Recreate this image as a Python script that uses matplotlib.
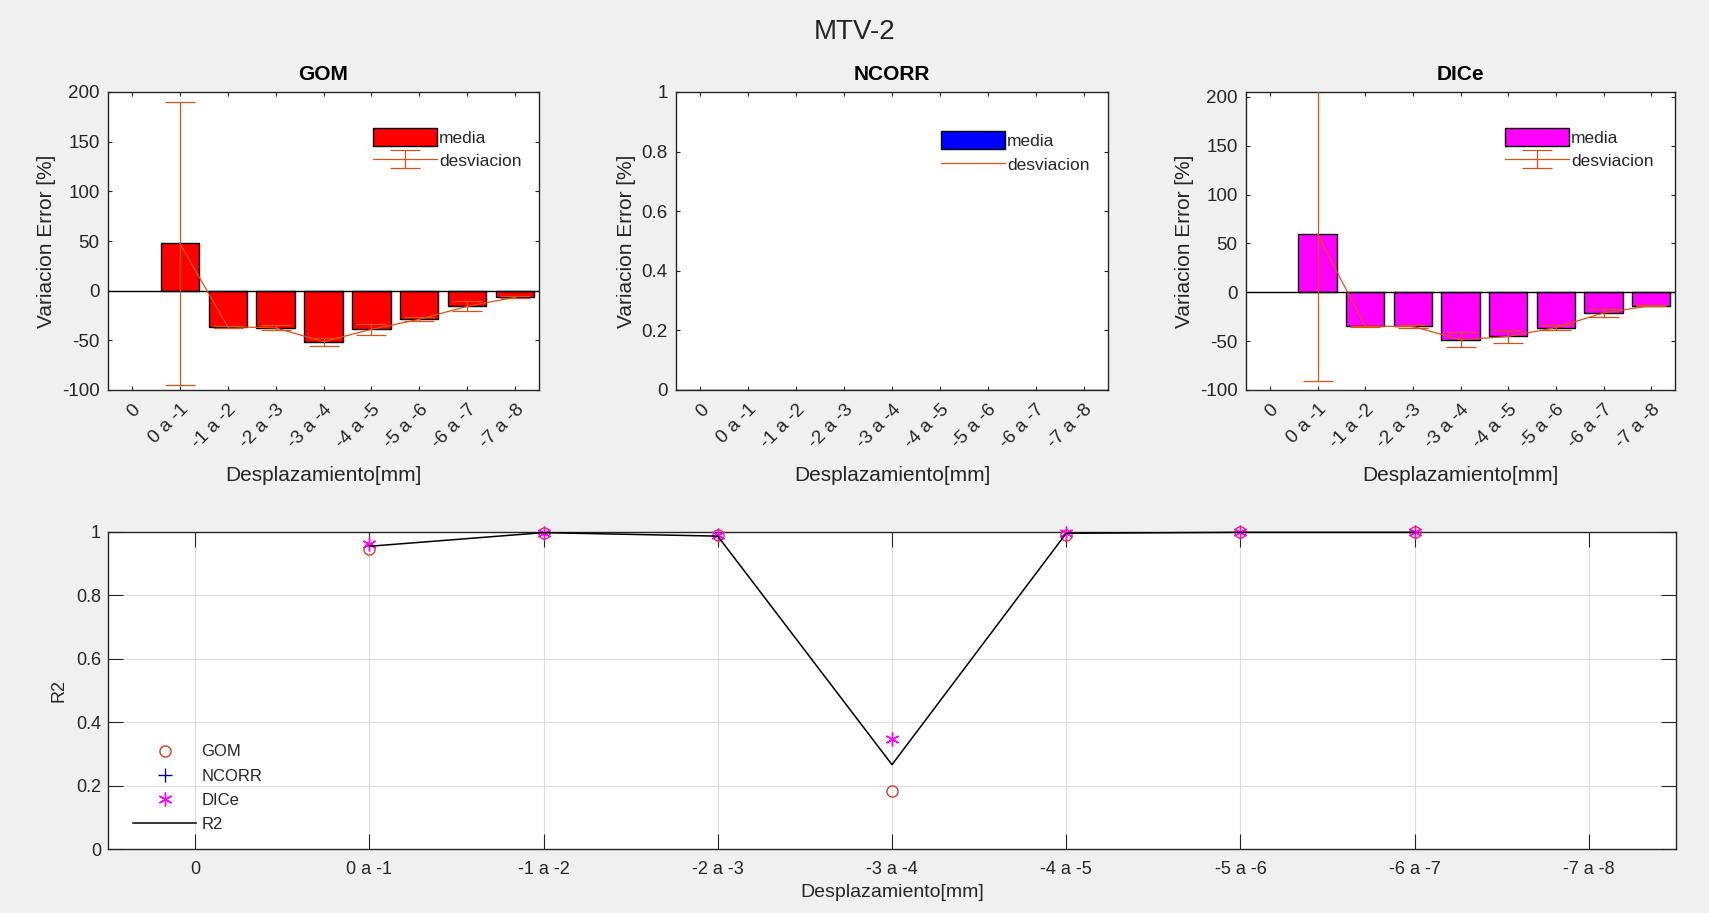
import numpy as np
import matplotlib
matplotlib.use("Agg")
import matplotlib.pyplot as plt

plt.rcParams["font.family"] = ["Liberation Sans", "DejaVu Sans"]

# ---- data -------------------------------------------------------------
categories = ['0', '0 a -1', '-1 a -2', '-2 a -3', '-3 a -4',
              '-4 a -5', '-5 a -6', '-6 a -7', '-7 a -8']
nan = np.nan

gom_media = [nan, 47.6, -36.2, -37.5, -51.3, -38.9, -28.8, -15.8, -6.7]
gom_desv = [nan, 142.5, 1.0, 2.5, 4.0, 5.5, 2.0, 5.0, 1.0]

ncorr_media = [nan, nan, nan, nan, nan, nan, nan, nan, nan]
ncorr_desv = [nan, nan, nan, nan, nan, nan, nan, nan, nan]

dice_media = [nan, 59.5, -34.7, -34.9, -48.6, -45.2, -36.1, -21.1, -13.6]
dice_desv = [nan, 150.3, 0.5, 1.5, 7.7, 6.5, 3.0, 4.4, 0.5]

r2_gom = [nan, 0.946, 0.998, 0.991, 0.184, 0.990, 0.999, 0.999, nan]
r2_ncorr = [nan, nan, nan, nan, nan, nan, nan, nan, nan]
r2_dice = [nan, 0.963, 0.998, 0.990, 0.347, 0.998, 1.000, 1.000, nan]
r2_total = [nan, 0.955, 0.998, 0.987, 0.266, 0.996, 0.999, 0.999, nan]

# ---- styling -----------------------------------------------------------
W, H = 1709, 913
TXT = (0.15, 0.15, 0.15)
ERR_COLOR = '#D95319'

fig = plt.figure(figsize=(W / 100, H / 100), dpi=100, facecolor='#f0f0f0')
fig.suptitle('MTV-2', fontsize=20, color=TXT, y=1 - 32 / H, va='center')


def box(l, t, r, b):
    return [l / W, 1 - b / H, (r - l) / W, (b - t) / H]


x = np.arange(1, len(categories) + 1)

panels = [
    ('GOM', gom_media, gom_desv, 'red', box(108, 92, 539, 390), (-100, 200),
     [-100, -50, 0, 50, 100, 150, 200], (0.615, 0.88)),
    ('NCORR', ncorr_media, ncorr_desv, 'blue', box(676, 92, 1108, 390), (0, 1),
     [0, 0.2, 0.4, 0.6, 0.8, 1], (0.613, 0.868)),
    ('DICe', dice_media, dice_desv, 'magenta', box(1246, 92, 1675, 390), (-100, 205),
     [-100, -50, 0, 50, 100, 150, 200], (0.604, 0.88)),
]

for name, media, desv, color, pos, ylim, yticks, leg_xy in panels:
    ax = fig.add_axes(pos)
    ax.set_facecolor('white')
    media = np.asarray(media, float)
    desv = np.asarray(desv, float)
    bars = ax.bar(x, media, width=0.8, color=color, edgecolor='black',
                  linewidth=1.0, label='media', zorder=2)
    ax.axhline(0, color='black', lw=1.0, zorder=3)
    if np.all(np.isnan(media)):
        err, = ax.plot(x, media, color=ERR_COLOR, lw=0.9, label='desviacion',
                       zorder=4)
    else:
        err = ax.errorbar(x, media, yerr=desv, fmt='-', color=ERR_COLOR, lw=0.9,
                          elinewidth=0.9, capsize=11, capthick=0.9,
                          label='desviacion', zorder=4)
    ax.set_xlim(0.5, len(categories) + 0.5)
    ax.set_ylim(*ylim)
    ax.set_yticks(yticks)
    ax.set_yticklabels([f'{v:g}' for v in yticks])
    ax.set_xticks(x)
    ax.set_xticklabels(categories, rotation=45, ha='right', va='top',
                       rotation_mode='anchor')
    ax.tick_params(direction='in', top=True, right=True, length=3.2, width=0.8,
                   labelsize=13.5, colors=TXT, pad=6)
    ax.tick_params(axis='x', pad=8)
    for s in ax.spines.values():
        s.set_color(TXT)
        s.set_linewidth(1.0)
    ax.set_title(name, fontsize=15, fontweight='bold', color='black', pad=9)
    ax.set_xlabel('Desplazamiento[mm]', fontsize=15, color=TXT, labelpad=10)
    ax.set_ylabel('Variacion Error [%]', fontsize=15, color=TXT, labelpad=4)
    ax.legend([bars, err], ['media', 'desviacion'],
              loc='upper left', bbox_to_anchor=leg_xy, frameon=False,
              fontsize=12.5, borderpad=0, borderaxespad=0,
              handlelength=3.7, handleheight=1.2, handletextpad=0.1,
              labelspacing=0.35, labelcolor=TXT)

# ---- R2 panel ----------------------------------------------------------
ax = fig.add_axes(box(108, 532, 1676, 849))
ax.set_facecolor('white')
ax.grid(True, color='#dcdcdc', lw=0.8, zorder=0)
ax.set_axisbelow(True)
ax.plot(x, r2_gom, linestyle='none', marker='o', markersize=8,
        markerfacecolor='none', markeredgecolor='#d43a2f', markeredgewidth=1.0,
        label='GOM', zorder=3, clip_on=False)
ax.plot(x, r2_ncorr, linestyle='none', marker='+', markersize=10,
        color='#000080', markeredgewidth=1.0, label='NCORR', zorder=3,
        clip_on=False)
ax.plot(x, r2_dice, linestyle='none', marker=(6, 2, 0), markersize=10,
        color='magenta', markeredgewidth=1.0, label='DICe', zorder=3,
        clip_on=False)
ax.plot(x, r2_total, color='black', lw=1.1, label='R2', zorder=4, clip_on=False)
ax.set_xlim(0.5, len(categories) + 0.5)
ax.set_ylim(0, 1)
r2_ticks = [0, 0.2, 0.4, 0.6, 0.8, 1]
ax.set_yticks(r2_ticks)
ax.set_yticklabels([f'{v:g}' for v in r2_ticks])
ax.set_xticks(x)
ax.set_xticklabels(categories)
ax.tick_params(direction='in', top=True, right=True, length=11, width=0.8,
               labelsize=13, colors=TXT)
ax.tick_params(axis='x', pad=9)
ax.tick_params(axis='y', pad=5)
for s in ax.spines.values():
    s.set_color(TXT)
    s.set_linewidth(1.0)
ax.set_xlabel('Desplazamiento[mm]', fontsize=14, color=TXT, labelpad=4)
ax.set_ylabel('R2', fontsize=13, color=TXT, labelpad=6)
ax.legend(loc='upper left', bbox_to_anchor=(0.016, 0.33), frameon=False,
          fontsize=12, borderpad=0, borderaxespad=0, handlelength=3.8,
          handletextpad=0.3, labelspacing=0.55, labelcolor=TXT)

fig.savefig('out.png', dpi=100, facecolor=fig.get_facecolor())
